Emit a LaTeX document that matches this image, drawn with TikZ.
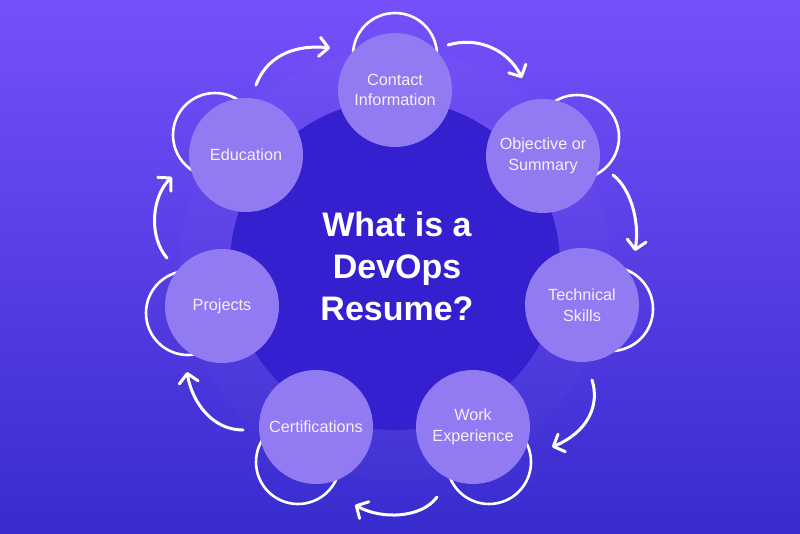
\documentclass[tikz,border=0pt]{standalone}
\usepackage{fontspec}
\setmainfont{Liberation Sans}
\usetikzlibrary{arrows.meta}
\definecolor{bgtop}{RGB}{118,80,250}
\definecolor{bgbot}{RGB}{56,44,206}
\definecolor{core}{RGB}{52,32,206}
\definecolor{item}{RGB}{146,122,242}
\definecolor{itemtext}{RGB}{244,240,255}
\tikzset{
  itemcirc/.style={circle,fill=item,minimum size=114pt,inner sep=0pt,align=center,
    text=itemtext,font=\fontsize{16.2}{20.5}\selectfont},
  ringcirc/.style={draw=white,line width=2.6pt},
  flow/.style={draw=white,line width=3pt,line cap=round,
    -{Straight Barb[length=9pt,width=19pt,line width=3pt,round]}},
}
\begin{document}
\begin{tikzpicture}[x=1pt,y=-1pt]
\useasboundingbox (0,0) rectangle (800,533);
\shade[top color=bgtop,bottom color=bgbot] (0,0) rectangle (800,533);
% halo and core
\fill[white,opacity=0.02] (395,265) circle (215pt);
\fill[core] (395,265) circle (165pt);
% outline rings behind item circles
\draw[ringcirc] (395,55) circle (42pt);
\draw[ringcirc] (577,137) circle (42pt);
\draw[ringcirc] (611,309) circle (42pt);
\draw[ringcirc] (489,462) circle (42pt);
\draw[ringcirc] (298,462) circle (42pt);
\draw[ringcirc] (188,313) circle (42pt);
\draw[ringcirc] (215,135) circle (42pt);
% item circles
\node[itemcirc] (contact) at (395,90) {Contact\\Information};
\node[itemcirc] (objective) at (543,156) {Objective or\\Summary};
\node[itemcirc] (technical) at (582,305) {Technical\\Skills};
\node[itemcirc] (work) at (473,427) {Work\\Experience};
\node[itemcirc] (cert) at (316,427) {Certifications};
\node[itemcirc] (projects) at (222,306) {Projects};
\node[itemcirc] (edu) at (246,155) {Education};
% title
\node[text=white,align=center,font=\fontsize{34}{42}\selectfont\bfseries] (title) at (397,266)
  {What is a\\DevOps\\Resume?};
% arrow end points
\coordinate (a1s) at (256,85);  \coordinate (a1e) at (330,48);
\coordinate (a2s) at (448,45);  \coordinate (a2e) at (522,78);
\coordinate (a3s) at (613,175); \coordinate (a3e) at (635,251);
\coordinate (a4s) at (592,380); \coordinate (a4e) at (552,447);
\coordinate (a5s) at (437,497); \coordinate (a5e) at (355,505);
\coordinate (a6s) at (243,430); \coordinate (a6e) at (187,372);
\coordinate (a7s) at (167,258); \coordinate (a7e) at (172,177);
\draw[flow] (a1s) .. controls (266,58) and (292,44) .. (a1e);
\draw[flow] (a2s) .. controls (478,36) and (508,50) .. (a2e);
\draw[flow] (a3s) .. controls (630,188) and (640,220) .. (a3e);
\draw[flow] (a4s) .. controls (600,405) and (588,432) .. (a4e);
\draw[flow] (a5s) .. controls (422,518) and (382,520) .. (a5e);
\draw[flow] (a6s) .. controls (212,430) and (192,402) .. (a6e);
\draw[flow] (a7s) .. controls (148,236) and (152,196) .. (a7e);
\end{tikzpicture}
\end{document}
